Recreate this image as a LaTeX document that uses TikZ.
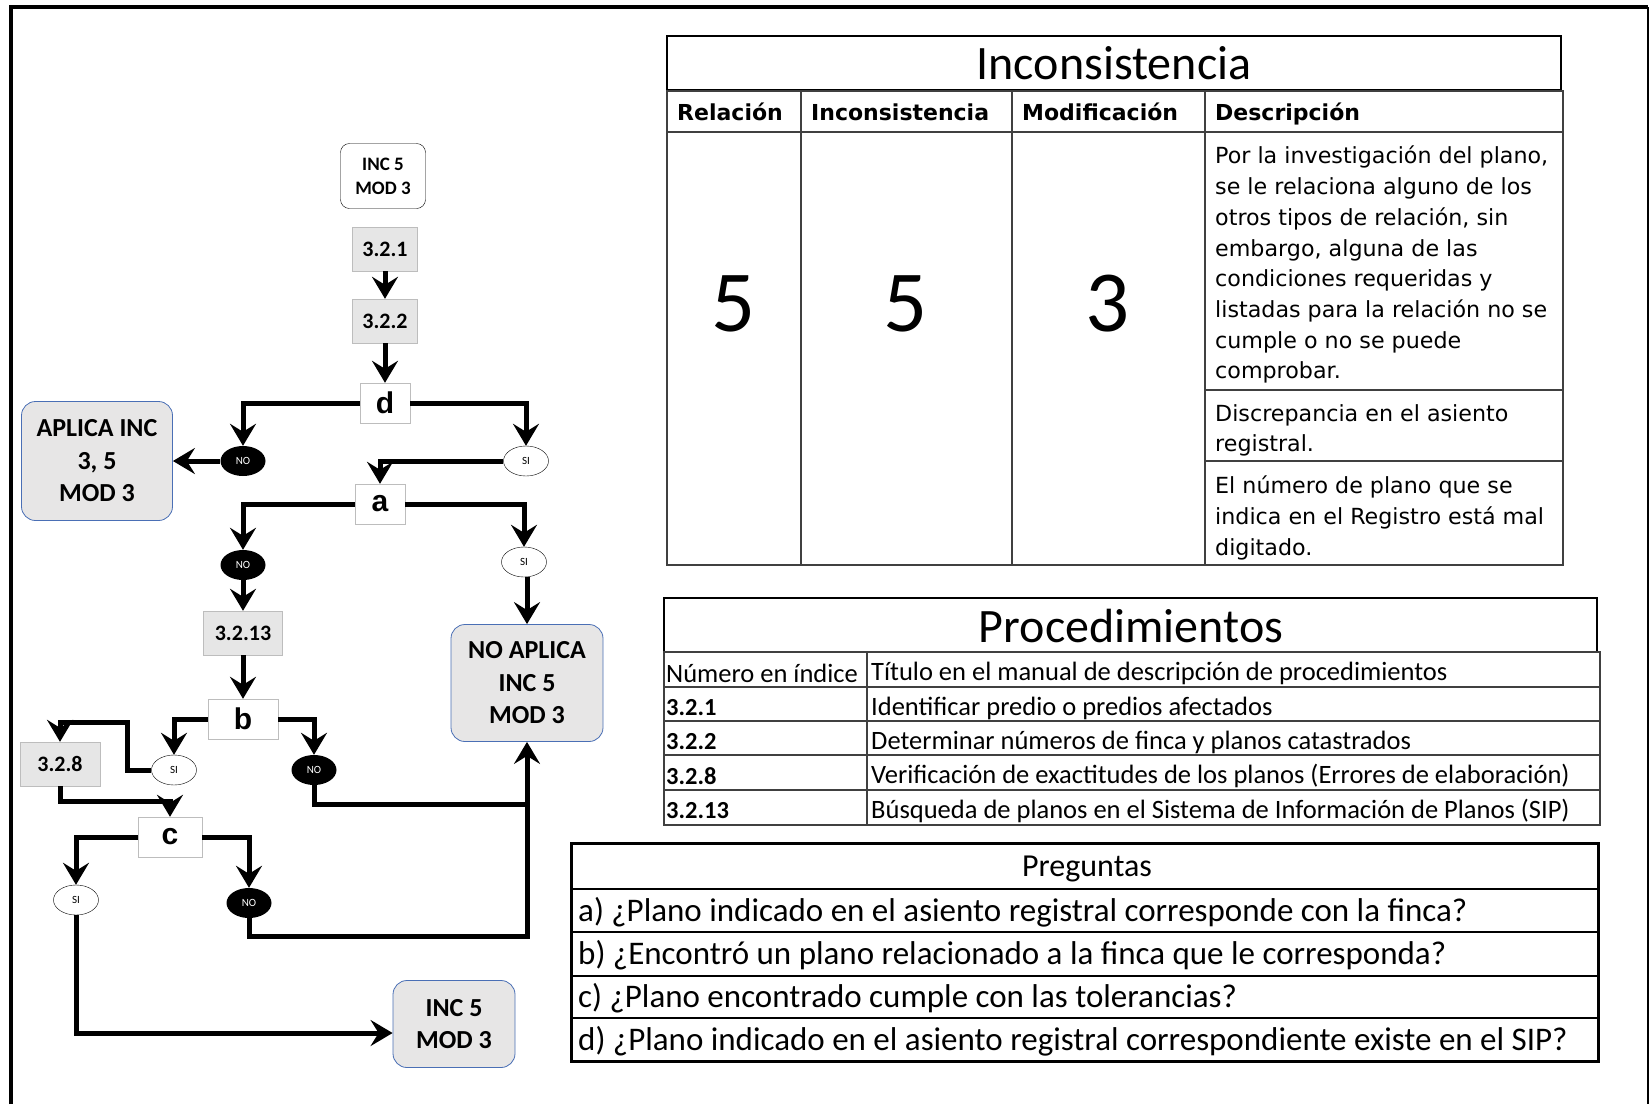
\documentclass[tikz,border=0pt]{standalone}
\usepackage{fontspec}
\usepackage{tikz}
\usetikzlibrary{arrows.meta,shapes.geometric}
\setmainfont{Carlito}
\newfontfamily\verdfont{DejaVu Sans}
\newfontfamily\heavyfont{Liberation Sans}
\definecolor{boxgray}{HTML}{E6E6E6}
\definecolor{boxedge}{HTML}{BDBDBD}
\definecolor{endfill}{HTML}{E7E6E6}
\definecolor{endedge}{HTML}{4A6FB5}
\definecolor{gridgray}{HTML}{404040}

\begin{document}
\begin{tikzpicture}[x=1pt,y=-1pt,
  flow/.style={line width=5pt,-{Stealth[length=22pt,width=26pt,inset=8pt]}},
  plain/.style={line width=5pt},
  proc/.style={draw=boxedge,fill=boxgray,minimum width=65pt,minimum height=44pt,inner sep=0pt,font=\fontsize{22}{24}\selectfont\bfseries},
  quest/.style={draw=boxedge,fill=white,minimum width=50pt,minimum height=40pt,inner sep=0pt,font=\fontsize{30}{32}\selectfont\heavyfont\bfseries},
  sibubble/.style={ellipse,draw,thin,fill=white,minimum width=45pt,minimum height=30pt,inner sep=0pt,font=\fontsize{11}{12}\selectfont},
  nobubble/.style={ellipse,fill=black,text=white,minimum width=45pt,minimum height=30pt,inner sep=0pt,font=\fontsize{11}{12}\selectfont},
  startbox/.style={draw,fill=white,rounded corners=9pt,minimum width=85pt,minimum height=65pt,align=center,font=\fontsize{19}{24}\selectfont\bfseries},
  endbox/.style={draw=endedge,fill=endfill,line width=0.8pt,rounded corners=14pt,align=center,font=\fontsize{26}{32.5}\selectfont\bfseries},
  cell/.style={anchor=west,inner sep=0pt},
  head/.style={anchor=base west,inner sep=0pt,font=\verdfont\bfseries\fontsize{22}{24}\selectfont},
  desc/.style={anchor=north west,inner sep=0pt,align=left,font=\verdfont\fontsize{22.2}{30.7}\selectfont},
  proctext/.style={cell,font=\fontsize{26.5}{28}\selectfont},
  procnum/.style={cell,font=\fontsize{24.5}{26}\selectfont\bfseries},
  questext/.style={cell,font=\fontsize{33}{35}\selectfont}
]
\useasboundingbox (0,0) rectangle (1650,1104);
% frame
\draw[line width=4pt] (11,1104) -- (11,7) -- (1648,7);
\draw[line width=1.5pt] (1648,7) -- (1648,1104);

% flowchart
\node[startbox] (inctop) at (383,176) {INC 5\\MOD 3};
\node[proc] (p321) at (385,249) {3.2.1};
\node[proc] (p322) at (385,321) {3.2.2};
\node[quest] (qd) at (385,403) {d};
\node[nobubble] (nod) at (243,461) {NO};
\node[sibubble] (sid) at (526,461) {SI};
\node[endbox,minimum width=151pt,minimum height=119pt] (aplica) at (97,461) {APLICA INC\\3, 5\\MOD 3};
\node[quest] (qa) at (380,504) {a};
\node[nobubble] (noa) at (243,565) {NO};
\node[sibubble] (sia) at (524,562) {SI};
\node[proc,minimum width=79pt] (p3213) at (243,633) {3.2.13};
\node[endbox,minimum width=152pt,minimum height=117pt] (noap) at (527,683) {NO APLICA\\INC 5\\MOD 3};
\node[quest,minimum width=70pt] (qb) at (243,719) {b};
\node[sibubble] (sib) at (174,770) {SI};
\node[nobubble] (nob) at (314,770) {NO};
\node[proc,minimum width=80pt] (p328) at (60,764) {3.2.8};
\node[quest,minimum width=64pt] (qc) at (170,837) {c};
\node[sibubble] (sic) at (76,900) {SI};
\node[nobubble] (noc) at (249,903) {NO};
\node[endbox,minimum width=122pt,minimum height=87pt] (incb) at (454,1024) {INC 5\\MOD 3};

\coordinate (sibbend) at (127,722);
\coordinate (joinup) at (527,804);
\coordinate (joinlow) at (527,936);

\draw[flow] (p321) -- (p322);
\draw[flow] (p322) -- (qd);
\draw[flow] (qd.west) -| (nod.north);
\draw[flow] (qd.east) -| (sid.north);
\draw[flow] (nod.west) -- (aplica.east);
\draw[flow] (sid.west) -| (qa.north);
\draw[flow] (qa.west) -| (noa.north);
\draw[flow] (qa.east) -| (sia.north);
\draw[flow] (noa) -- (p3213);
\draw[flow] (p3213) -- (qb);
\draw[flow] (sia.south -| noap.north) -- (noap.north);
\draw[flow] (qb.west) -| (sib.north);
\draw[flow] (qb.east) -| (nob.north);
\draw[flow] (sib.west) -| (sibbend) -| (p328.north);
\draw[flow] (p328.south) -- ++(0,15) -| (qc.north);
\draw[flow] (nob.south) |- (joinup) -- (noap.south);
\draw[plain] (noc.south) |- (joinlow) -- (joinup);
\draw[flow] (qc.west) -| (sic.north);
\draw[flow] (qc.east) -| (noc.north);
\draw[flow] (sic.south) |- ([yshift=-9pt]incb.west);

% Inconsistencia table
\draw[line width=1.5pt] (667,36) rectangle (1561,90);
\node[font=\fontsize{48}{52}\selectfont] (inctitle) at (1114,63) {Inconsistencia};
\draw[gridgray,line width=1.2pt] (667,91) rectangle (1563,565);
\draw[gridgray,line width=1.2pt] (667,132) -- (1563,132);
\foreach \x in {801,1012,1205}
  \draw[gridgray,line width=1.2pt] (\x,91) -- (\x,565);
\draw[gridgray,line width=1.2pt] (1205,390) -- (1563,390);
\draw[gridgray,line width=1.2pt] (1205,461) -- (1563,461);
\node[head] (hrel) at (677,120) {Relación};
\node[head] (hinc) at (811,120) {Inconsistencia};
\node[head] (hmod) at (1022,120) {Modificación};
\node[head] (hdes) at (1215,120) {Descripción};
\node[font=\fontsize{87}{90}\selectfont] (nrel) at (734,304) {5};
\node[font=\fontsize{87}{90}\selectfont] (ninc) at (906,304) {5};
\node[font=\fontsize{87}{90}\selectfont] (nmod) at (1108,304) {3};
\node[desc] (desca) at (1215,146) {Por la investigación del plano,\\se le relaciona alguno de los\\otros tipos de relación, sin\\embargo, alguna de las\\condiciones requeridas y\\listadas para la relación no se\\cumple o no se puede\\comprobar.};
\node[desc] (descb) at (1215,404) {Discrepancia en el asiento\\registral.};
\node[desc] (descc) at (1215,476) {El número de plano que se\\indica en el Registro está mal\\digitado.};

% Procedimientos table
\draw[line width=1.2pt] (664,598) rectangle (1597,652);
\node[font=\fontsize{48}{52}\selectfont] (proctitle) at (1131,626) {Procedimientos};
\draw[gridgray,line width=1.2pt] (664,652) rectangle (1600,825);
\foreach \y in {687,721,755,790}
  \draw[gridgray,line width=1.2pt] (664,\y) -- (1600,\y);
\draw[gridgray,line width=1.2pt] (867,652) -- (867,825);
\node[proctext] (hnum) at (666,673) {Número en índice};
\node[proctext] (htit) at (871,673) {Título en el manual de descripción de procedimientos};
\node[procnum] (n321) at (666,708) {3.2.1};
\node[proctext] (t321) at (871,708) {Identificar predio o predios afectados};
\node[procnum] (n322) at (666,742) {3.2.2};
\node[proctext] (t322) at (871,742) {Determinar números de finca y planos catastrados};
\node[procnum] (n328) at (666,776) {3.2.8};
\node[proctext] (t328) at (871,776) {Verificación de exactitudes de los planos (Errores de elaboración)};
\node[procnum] (n3213) at (666,811) {3.2.13};
\node[proctext] (t3213) at (871,811) {Búsqueda de planos en el Sistema de Información de Planos (SIP)};

% Preguntas table
\draw[line width=3pt] (571,843) rectangle (1598,1061);
\foreach \y in {889,932,976,1018}
  \draw[line width=2pt] (571,\y) -- (1598,\y);
\node[font=\fontsize{32}{34}\selectfont] (pregtitle) at (1087,869) {Preguntas};
\node[questext] (pa) at (578,912) {a) ¿Plano indicado en el asiento registral corresponde con la finca?};
\node[questext] (pb) at (578,955) {b) ¿Encontró un plano relacionado a la finca que le corresponda?};
\node[questext] (pc) at (578,998) {c) ¿Plano encontrado cumple con las tolerancias?};
\node[questext] (pd) at (578,1041) {d) ¿Plano indicado en el asiento registral correspondiente existe en el SIP?};
\end{tikzpicture}
\end{document}
